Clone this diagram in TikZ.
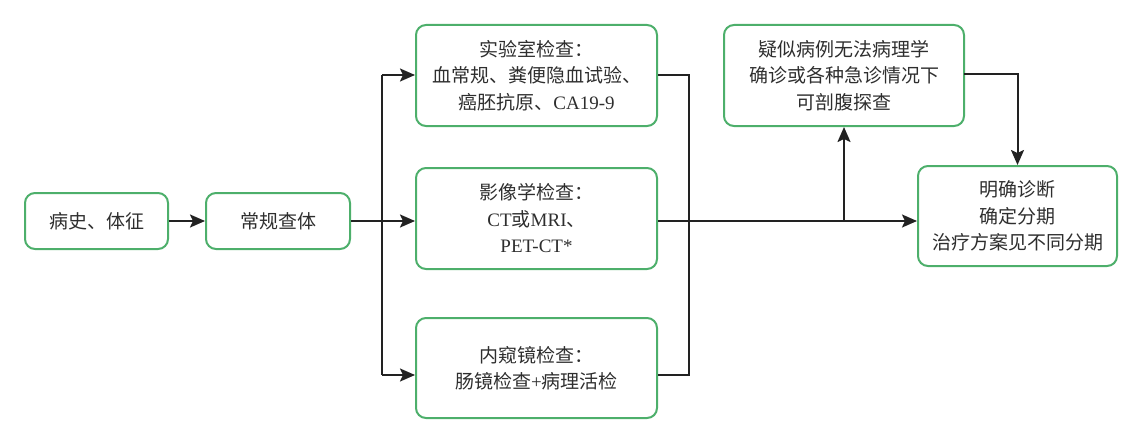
\documentclass[tikz,border=0pt]{standalone}
\usepackage{fontspec}
\setmainfont{Liberation Serif}
\newfontfamily\cjk{Noto Sans CJK SC}
\newfontfamily\lat{Liberation Serif}
\usetikzlibrary{arrows.meta}
\definecolor{boxgreen}{HTML}{4DAF6B}
\definecolor{txt}{HTML}{2E2E2E}
\definecolor{ln}{HTML}{222222}
\begin{document}
\begin{tikzpicture}[x=1pt,y=-1pt,
 box/.style={draw=boxgreen, line width=2pt, rounded corners=10pt, text=txt, align=center,
   font=\cjk\fontsize{19}{26.5}\selectfont, inner sep=0pt},
 conn/.style={draw=ln, line width=2pt},
 arr/.style={conn, -{Stealth[length=15pt,width=13pt,inset=3pt]}}]
\useasboundingbox (0,0) rectangle (1134,436);
\node[box, minimum width=143, minimum height=56] (a) at (96.5,221) {病史、体征};
\node[box, minimum width=144, minimum height=56] (b) at (278,221) {常规查体};
\node[box, minimum width=241, minimum height=101] (lab) at (536.5,75.5) {实验室检查：\\血常规、粪便隐血试验、\\癌胚抗原、{\lat CA19-9}};
\node[box, minimum width=241, minimum height=101] (img) at (536.5,218.5) {影像学检查：\\{\lat CT}或{\lat MRI}、\\{\lat PET-CT*}};
\node[box, minimum width=241, minimum height=100] (endo) at (536.5,368) {内窥镜检查：\\肠镜检查{\lat +}病理活检};
\node[box, minimum width=240, minimum height=101] (up) at (844,75.5) {疑似病例无法病理学\\确诊或各种急诊情况下\\可剖腹探查};
\node[box, minimum width=199, minimum height=100] (fin) at (1017.5,216) {明确诊断\\确定分期\\治疗方案见不同分期};
\coordinate (sTop) at (382,75);
\coordinate (sBot) at (382,375);
\coordinate (cTop) at (689,75);
\coordinate (cBot) at (689,375);
\coordinate (j) at (844,221);
\coordinate (uOut) at (964,74);
\draw[arr] (a) -- (b);
\draw[arr] (b.east) -- (b.east -| img.west);
\draw[conn] (sTop) -- (sBot);
\draw[arr] (sTop) -- (sTop -| lab.west);
\draw[arr] (sBot) -- (sBot -| endo.west);
\draw[conn] (lab.east |- cTop) -- (cTop) -- (cBot) -- (endo.east |- cBot);
\draw[arr] (img.east |- b.east) -- (fin.west |- b.east);
\draw[arr] (j) -- (up.south);
\draw[arr] (uOut) -| (fin.north);
\end{tikzpicture}
\end{document}
